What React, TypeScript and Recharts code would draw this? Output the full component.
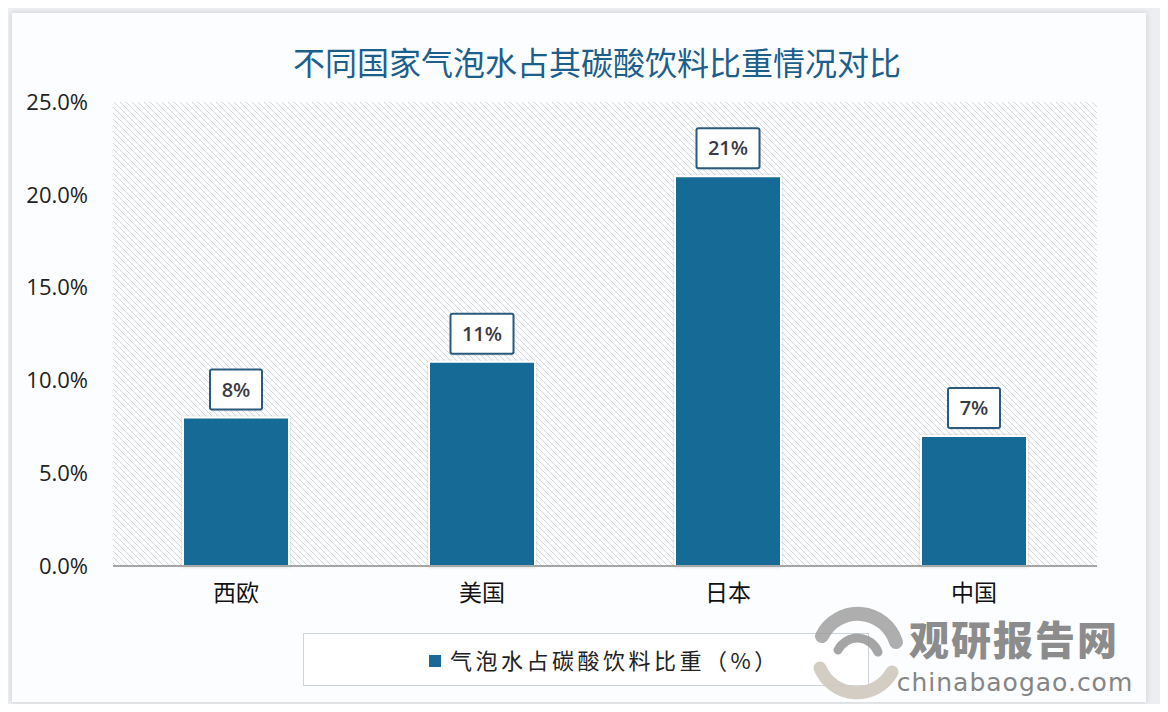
import React from 'react';
import { BarChart, Bar, XAxis, YAxis, CartesianGrid, LabelList } from 'recharts';

const categories = ['西欧', '美国', '日本', '中国'];
const shares = [8, 11, 21, 7];
const yTicks = [0, 5, 10, 15, 20, 25];
const titleText = '不同国家气泡水占其碳酸饮料比重情况对比';
const seriesName = '气泡水占碳酸饮料比重（%）';

const data = categories.map((c, i) => ({ name: c, value: shares[i] }));

const BAR_COLOR = '#196a96';

const LabelBox = (props: any) => {
  const { x, y, width, value } = props;
  const text = `${value}%`;
  const w = text.length * 11 + 30;
  const h = 40;
  const cx = x + width / 2;
  const bottom = y - 8;
  return (
    <g>
      <rect x={cx - w / 2 + 1} y={bottom - h + 2} width={w} height={h} fill="rgba(0,0,0,0.08)" rx={2} />
      <rect x={cx - w / 2} y={bottom - h} width={w} height={h} fill="#ffffff" stroke="#2a5b7e" strokeWidth={2} rx={2} />
      <text x={cx} y={bottom - h / 2 + 7} textAnchor="middle" fontFamily="'Open Sans', sans-serif" fontWeight={600} fontSize={20} fill="#3a3a44">
        {text}
      </text>
    </g>
  );
};

export default function App() {
  return (
    <div style={{ position: 'relative', width: 1168, height: 712, margin: -8, background: '#eceef1', overflow: 'hidden', fontFamily: "'Noto Sans CJK SC', sans-serif" }}>
      <div style={{ position: 'absolute', left: 12, top: 13, width: 1134, height: 689, background: '#fcfdfe', boxShadow: '0 0 6px rgba(0,0,0,0.14)' }} />
      <div style={{ position: 'absolute', left: 0, width: 1194, top: 44, textAlign: 'center', fontSize: 32, lineHeight: '34px', color: '#1d5f8c', fontFamily: "'Noto Sans CJK SC', sans-serif", whiteSpace: 'nowrap' }}>
        {titleText}
      </div>
      <div style={{ position: 'absolute', left: 0, top: 0 }}>
        <BarChart width={1168} height={712} data={data} margin={{ top: 102, right: 71, bottom: 116, left: 13 }}>
          <defs>
            <pattern id="hatch" patternUnits="userSpaceOnUse" width={6} height={6}>
              <path d="M-1,-1 l2,2 M0,0 l6,6 M5,5 l2,2" stroke="#d6d8db" strokeWidth={1} />
            </pattern>
            <filter id="barShadow" x="-10%" y="-10%" width="120%" height="120%">
              <feDropShadow dx="0" dy="0" stdDeviation="1.5" floodColor="#000" floodOpacity="0.18" />
            </filter>
          </defs>
          <CartesianGrid horizontal={false} vertical={false} fill="url(#hatch)" />
          <XAxis
            dataKey="name"
            height={30}
            axisLine={{ stroke: '#8a8a8a', strokeWidth: 1.5 }}
            tickLine={false}
            tickSize={0}
            tickMargin={19}
            tick={{ fontSize: 23, fill: '#111', fontFamily: "'Noto Sans CJK SC', sans-serif" }}
          />
          <YAxis
            width={100}
            domain={[0, 25]}
            ticks={yTicks}
            axisLine={false}
            tickLine={false}
            tickSize={0}
            tickMargin={25}
            tickFormatter={(v: number) => `${v.toFixed(1)}%`}
            tick={{ fontSize: 22, fill: '#222', fontFamily: "'Open Sans', sans-serif" }}
          />
          <Bar dataKey="value" name={seriesName} fill={BAR_COLOR} stroke="#ffffff" strokeWidth={2} barSize={106} isAnimationActive={false} style={{ filter: 'url(#barShadow)' }}>
            <LabelList dataKey="value" content={<LabelBox />} />
          </Bar>
        </BarChart>
      </div>
      <div style={{ position: 'absolute', left: 303, top: 633, width: 566, height: 53, boxSizing: 'border-box', border: '1px solid #cfd4da', background: '#ffffff' }}>
        <div style={{ position: 'absolute', left: 125, top: 21, width: 12, height: 12, background: BAR_COLOR }} />
        <div style={{ position: 'absolute', left: 146, top: 10, fontSize: 22, lineHeight: '30px', letterSpacing: 3.5, color: '#222', fontFamily: "'Noto Sans CJK SC', sans-serif", whiteSpace: 'nowrap' }}>
          {seriesName}
        </div>
      </div>
      <svg style={{ position: 'absolute', left: 0, top: 0 }} width={1168} height={712}>
        <path d="M 822 636 A 40 40 0 0 1 896 642" stroke="#9a9a9a" strokeWidth={14} fill="none" strokeLinecap="round" opacity={0.8} />
        <path d="M 838 650 A 22 22 0 0 1 878 652" stroke="#8f8f8f" strokeWidth={9} fill="none" strokeLinecap="round" opacity={0.8} />
        <path d="M 820 668 A 40 40 0 0 0 892 672" stroke="#cfc8be" strokeWidth={13} fill="none" strokeLinecap="round" opacity={0.9} />
        <text x={1014} y={655} textAnchor="middle" fontSize={40} fontWeight={900} fill="#8c8c8c" fontFamily="'Noto Sans CJK SC', sans-serif" letterSpacing={2}>观研报告网</text>
        <text x={1015} y={691} textAnchor="middle" fontSize={25} fill="#858585" fontFamily="'DejaVu Sans', sans-serif" letterSpacing={1}>chinabaogao.com</text>
      </svg>
    </div>
  );
}
